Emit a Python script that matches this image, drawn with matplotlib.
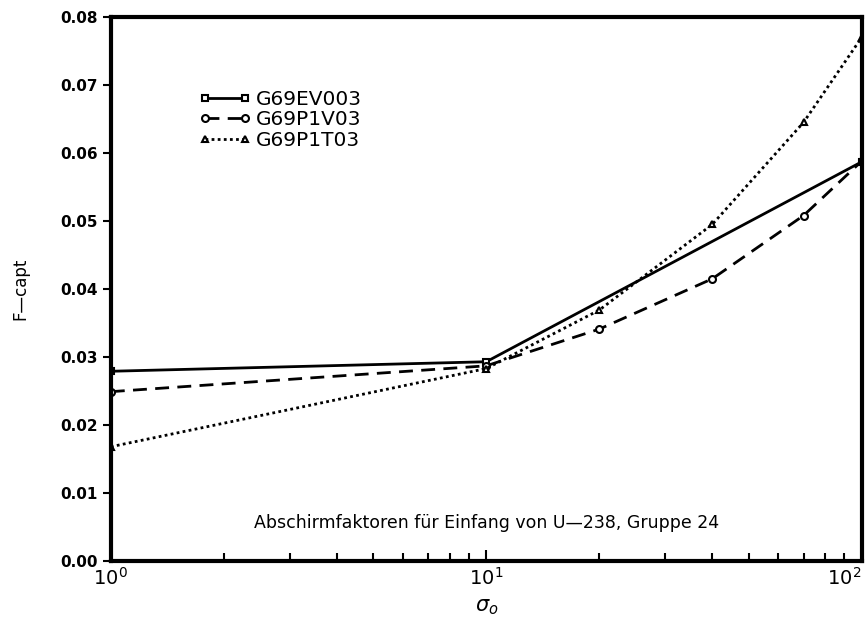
#Shielding factors for capture of U-238, group 24
import numpy as np
import matplotlib.pyplot as plt

#Data
sigma_ev = [1, 10, 100]
fcapt_ev = [0.0279, 0.0293, 0.0587]

sigma_p1v = [1, 10, 20, 40, 70, 100]
fcapt_p1v = [0.0249, 0.0287, 0.0341, 0.0415, 0.0508, 0.0588]

sigma_p1t = [1, 10, 20, 40, 70, 100]
fcapt_p1t = [0.0168, 0.0283, 0.0369, 0.0495, 0.0645, 0.0770]

labels = ["G69EV003", "G69P1V03", "G69P1T03"]
x_ticks = [1, 10, 100]
x_ticklabels = [r"$10^0$", r"$10^1$", r"$10^2$"]
y_ticks = [0.00, 0.01, 0.02, 0.03, 0.04, 0.05, 0.06, 0.07, 0.08]

plt.rcParams["font.family"] = "DejaVu Sans"

fig = plt.figure(figsize=(8.66, 6.31), dpi=100)
ax = fig.add_axes([0.128, 0.111, 0.867, 0.862])

ax.plot(sigma_ev, fcapt_ev, color="black", lw=2.0, ls="-",
        marker="s", ms=5, mfc="white", mec="black", mew=1.5, label=labels[0])
ax.plot(sigma_p1v, fcapt_p1v, color="black", lw=2.0, ls=(0, (5, 3)),
        marker="o", ms=5, mfc="white", mec="black", mew=1.5, label=labels[1])
ax.plot(sigma_p1t, fcapt_p1t, color="black", lw=2.0, ls=(0, (1, 1.2)),
        marker="^", ms=5, mfc="white", mec="black", mew=1.5, label=labels[2])

ax.set_xscale("log")
ax.set_xlim(1, 100)
ax.set_ylim(0, 0.08)
ax.set_xticks(x_ticks)
ax.set_xticklabels(x_ticklabels)
ax.set_yticks(y_ticks)
ax.set_yticklabels(["%.2f" % v for v in y_ticks], fontsize=11, fontweight="bold")

ax.tick_params(axis="y", direction="out", length=6, width=1.5)
ax.tick_params(axis="x", which="major", direction="in", length=8, width=1.5,
               labelsize=14, pad=4)
ax.tick_params(axis="x", which="minor", direction="in", length=6, width=1.5)

#keep the last decade label inside the figure
ax.get_xticklabels()[-1].set_horizontalalignment("right")

for s in ax.spines.values():
    s.set_linewidth(3)

ax.set_ylabel("F\u2014capt", fontsize=12, labelpad=22)
ax.set_xlabel(r"$\sigma_o$", fontsize=15, labelpad=6)

ax.text(0.5, 0.07, "Abschirmfaktoren f\u00fcr Einfang von U\u2014238, Gruppe 24",
        transform=ax.transAxes, ha="center", va="center", fontsize=12.5)

leg = ax.legend(loc="upper left", bbox_to_anchor=(0.093, 0.9), frameon=False,
                numpoints=2, handlelength=2.6, handletextpad=0.25,
                labelspacing=0.08, fontsize=14.5)

fig.savefig("out.png", dpi=100)
plt.close()
